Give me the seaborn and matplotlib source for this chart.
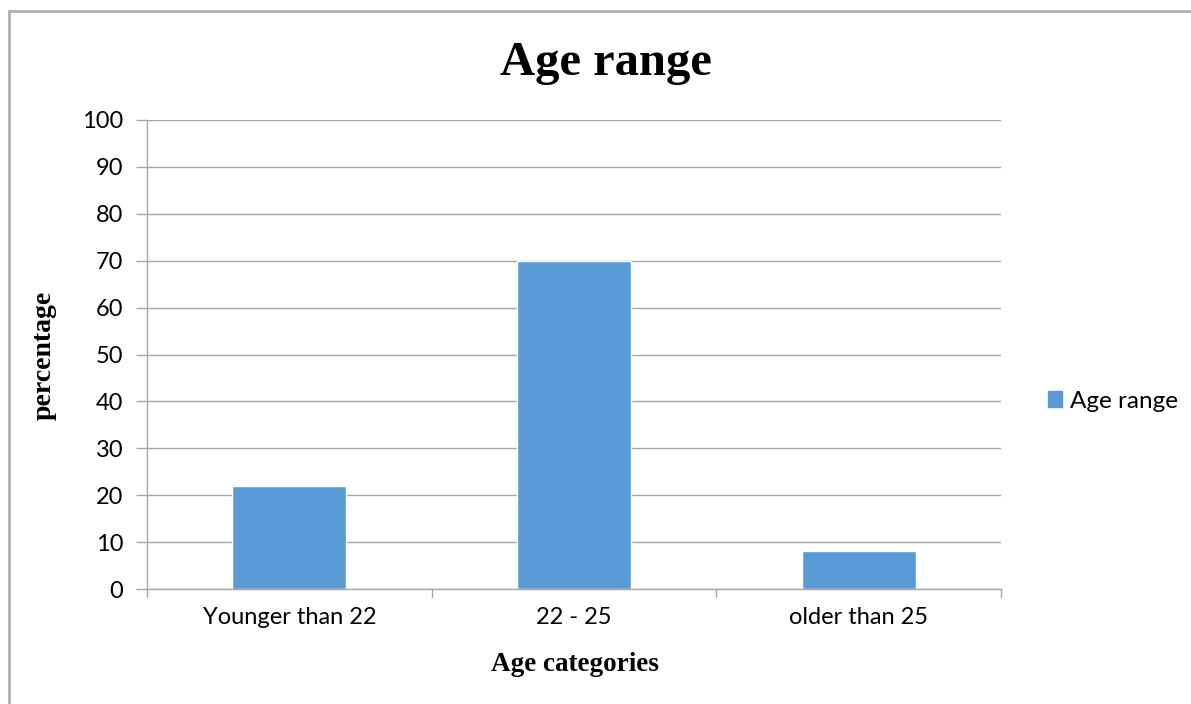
import matplotlib
matplotlib.use("Agg")
import matplotlib.pyplot as plt
import seaborn as sns
import pandas as pd
from matplotlib.patches import Rectangle

categories = ["Younger than 22", "22 - 25", "older than 25"]
values = [22, 70, 8]
series_name = "Age range"
y_ticks = [0, 10, 20, 30, 40, 50, 60, 70, 80, 90, 100]

df = pd.DataFrame({"category": categories, "value": values, "series": series_name})

sns.set_theme(style="white")
plt.rcParams["font.family"] = ["Lato", "DejaVu Sans"]
plt.rcParams["text.color"] = "black"

bar_color = "#5B9BD5"
grid_color = "#A6A6A6"
W, H = 1191, 704

fig = plt.figure(figsize=(W / 100, H / 100), dpi=100)
ax = fig.add_axes([147 / W, 1 - 589 / H, (1001 - 147) / W, (589 - 120) / H])

sns.barplot(data=df, x="category", y="value", hue="series", palette=[bar_color],
            width=0.4, ax=ax, legend=False, saturation=1)

ax.set_xlim(-0.5, len(categories) - 0.5)
ax.set_ylim(0, 100)
ax.set_yticks(y_ticks)
ax.set_yticklabels([str(t) for t in y_ticks], fontsize=17, color="black")
ax.set_xticks(range(len(categories)))
ax.set_xticklabels(categories, fontsize=17, color="black")
ax.tick_params(axis="x", length=0, pad=13)
ax.tick_params(axis="y", length=8, width=1, color=grid_color, pad=9, left=True)
ax.yaxis.grid(True, color=grid_color, linewidth=1)
ax.set_axisbelow(True)
ax.set_xlabel("")
ax.set_ylabel("")

for side in ["top", "right"]:
    ax.spines[side].set_visible(False)
for side in ["left", "bottom"]:
    ax.spines[side].set_color(grid_color)
    ax.spines[side].set_linewidth(1)

# category boundary ticks below the x axis
for b in [-0.5, 0.5, 1.5, 2.5]:
    ax.plot([b, b], [0, -1.7], color=grid_color, linewidth=1, clip_on=False)

serif = ["Liberation Serif", "DejaVu Serif"]
fig.text(575 / W, 1 - 671 / H, "Age categories", ha="center", va="baseline",
         fontsize=19.5, fontweight="bold", family=serif, color="black")
fig.text(44 / W, 1 - 355 / H, "percentage", ha="center", va="center", rotation=90,
         fontsize=20, fontweight="bold", family=serif, color="black")
fig.text(606 / W, 1 - 75 / H, "Age range", ha="center", va="baseline",
         fontsize=35, fontweight="bold", family=serif, color="black")

handle = Rectangle((0, 0), 1, 1, color=bar_color)
fig.legend([handle], [series_name], loc="center left",
           bbox_to_anchor=(1026 / W, 1 - 401 / H), frameon=False,
           fontsize=17.5, handlelength=0.6, handleheight=0.6, handletextpad=0.3,
           labelcolor="black")

# outer chart frame
fig.add_artist(Rectangle((8.5 / W, -0.05), 1.1, 1 - 10.5 / H + 0.05,
                         transform=fig.transFigure, fill=False,
                         edgecolor="#B0B0B0", linewidth=2))

fig.savefig("out.png", dpi=100)
